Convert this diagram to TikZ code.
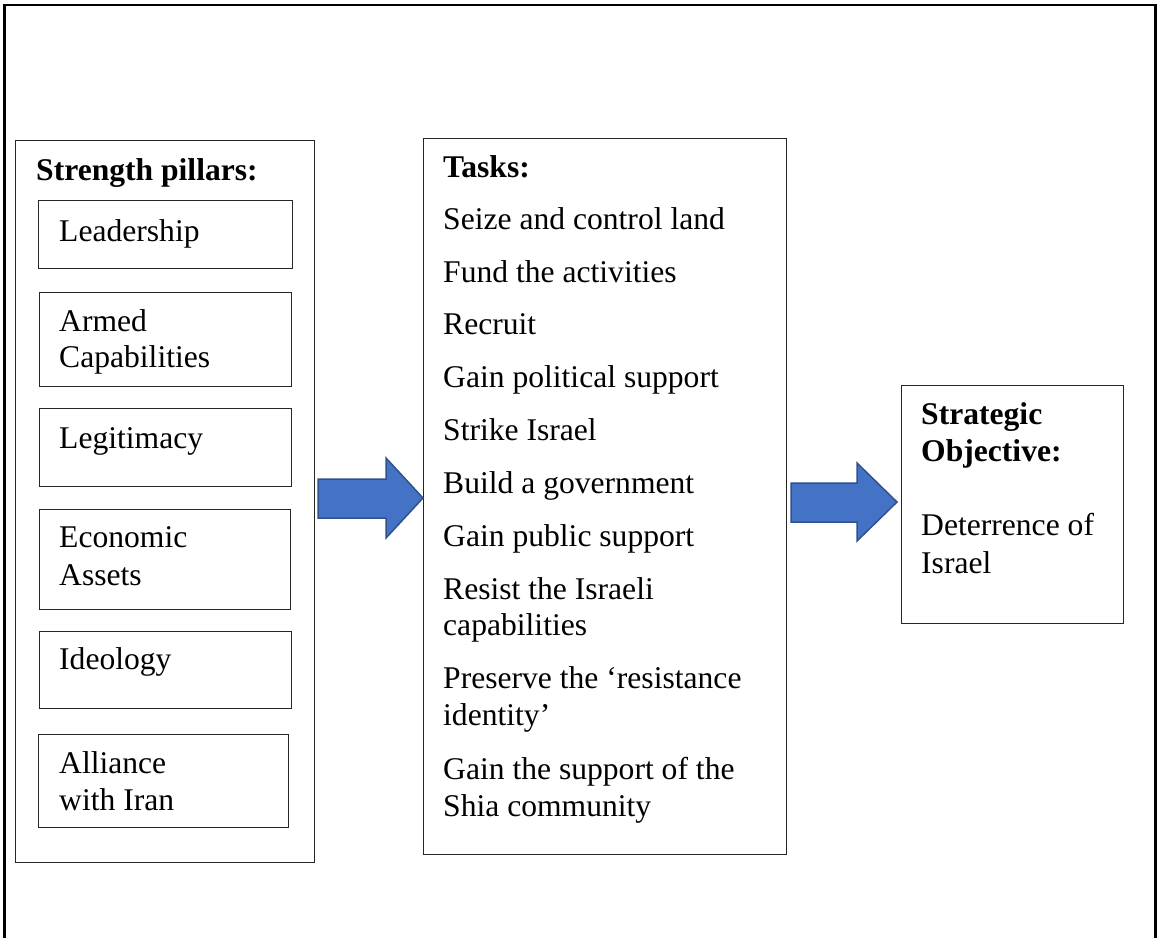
\documentclass[tikz,border=0pt]{standalone}
\usepackage{fontspec}
\setmainfont{Liberation Serif}
\usetikzlibrary{calc}
\definecolor{arrowfill}{HTML}{4472C4}
\definecolor{arrowline}{HTML}{2F528F}
\begin{document}
\begin{tikzpicture}[x=1pt,y=-1pt,
  box/.style={draw=black!85,line width=1pt,anchor=north west,inner sep=0pt,rectangle},
  txt/.style={anchor=base west,inner sep=0pt,font=\fontsize{31.6}{36.8}\selectfont},
  ttl/.style={txt,font=\fontsize{31.6}{36.8}\selectfont\bfseries},
  blockarrow/.style={fill=arrowfill,draw=arrowline,line width=1.5pt,line join=miter}]
\useasboundingbox (0,0) rectangle (1157,938);
% frame (open at bottom)
\draw[line width=2.6pt] (4.5,938) -- (4.5,5) -- (1155.5,5) -- (1155.5,938);
% left column
\node[box,minimum width=299pt,minimum height=722pt] (pillars) at (15,140) {};
\node[ttl] (tpillars) at (36,180) {Strength pillars:};
\node[box,minimum width=254pt,minimum height=68pt] (lead) at (38,200) {};
\node[txt] (tlead) at (59,241) {Leadership};
\node[box,minimum width=252pt,minimum height=94pt] (armed) at (39,292) {};
\node[txt] (tarmed1) at (59,331) {Armed};
\node[txt] (tarmed2) at (59,367) {Capabilities};
\node[box,minimum width=252pt,minimum height=78pt] (legit) at (39,408) {};
\node[txt] (tlegit) at (59,448) {Legitimacy};
\node[box,minimum width=251pt,minimum height=100pt] (econ) at (39,509) {};
\node[txt] (tecon1) at (59,547) {Economic};
\node[txt] (tecon2) at (59,585) {Assets};
\node[box,minimum width=252pt,minimum height=77pt] (ideo) at (39,631) {};
\node[txt] (tideo) at (59,669) {Ideology};
\node[box,minimum width=250pt,minimum height=93pt] (iran) at (38,734) {};
\node[txt] (tiran1) at (59,773) {Alliance};
\node[txt] (tiran2) at (59,810) {with Iran};
% middle column
\node[box,minimum width=363pt,minimum height=716pt] (tasks) at (423,138) {};
\node[ttl] (ttasks) at (443,177) {Tasks:};
\node[txt] (k1) at (443,229) {Seize and control land};
\node[txt] (k2) at (443,282) {Fund the activities};
\node[txt] (k3) at (443,334) {Recruit};
\node[txt] (k4) at (443,387) {Gain political support};
\node[txt] (k5) at (443,440) {Strike Israel};
\node[txt] (k6) at (443,493) {Build a government};
\node[txt] (k7) at (443,546) {Gain public support};
\node[txt] (k8a) at (443,599) {Resist the Israeli};
\node[txt] (k8b) at (443,635) {capabilities};
\node[txt] (k9a) at (443,688) {Preserve the `resistance};
\node[txt] (k9b) at (443,725) {identity'};
\node[txt] (k10a) at (443,779) {Gain the support of the};
\node[txt] (k10b) at (443,816) {Shia community};
% right column
\node[box,minimum width=222pt,minimum height=238pt] (goal) at (901,385) {};
\node[ttl] (tgoal1) at (921,424) {Strategic};
\node[ttl] (tgoal2) at (921,461) {Objective:};
\node[txt] (tgoal3) at (921,535) {Deterrence of};
\node[txt] (tgoal4) at (921,573) {Israel};
% block arrows
\coordinate (a1tip) at (tasks.west |- 0,498);
\coordinate (a2tip) at ($(goal.west |- 0,502)+(-4,0)$);
\draw[blockarrow] (318,479) -- (386,479) -- (386,458) -- (a1tip) -- (386,538) -- (386,518) -- (318,518) -- cycle;
\draw[blockarrow] (791,483) -- (857,483) -- (857,463) -- (a2tip) -- (857,541) -- (857,522) -- (791,522) -- cycle;
\end{tikzpicture}
\end{document}
